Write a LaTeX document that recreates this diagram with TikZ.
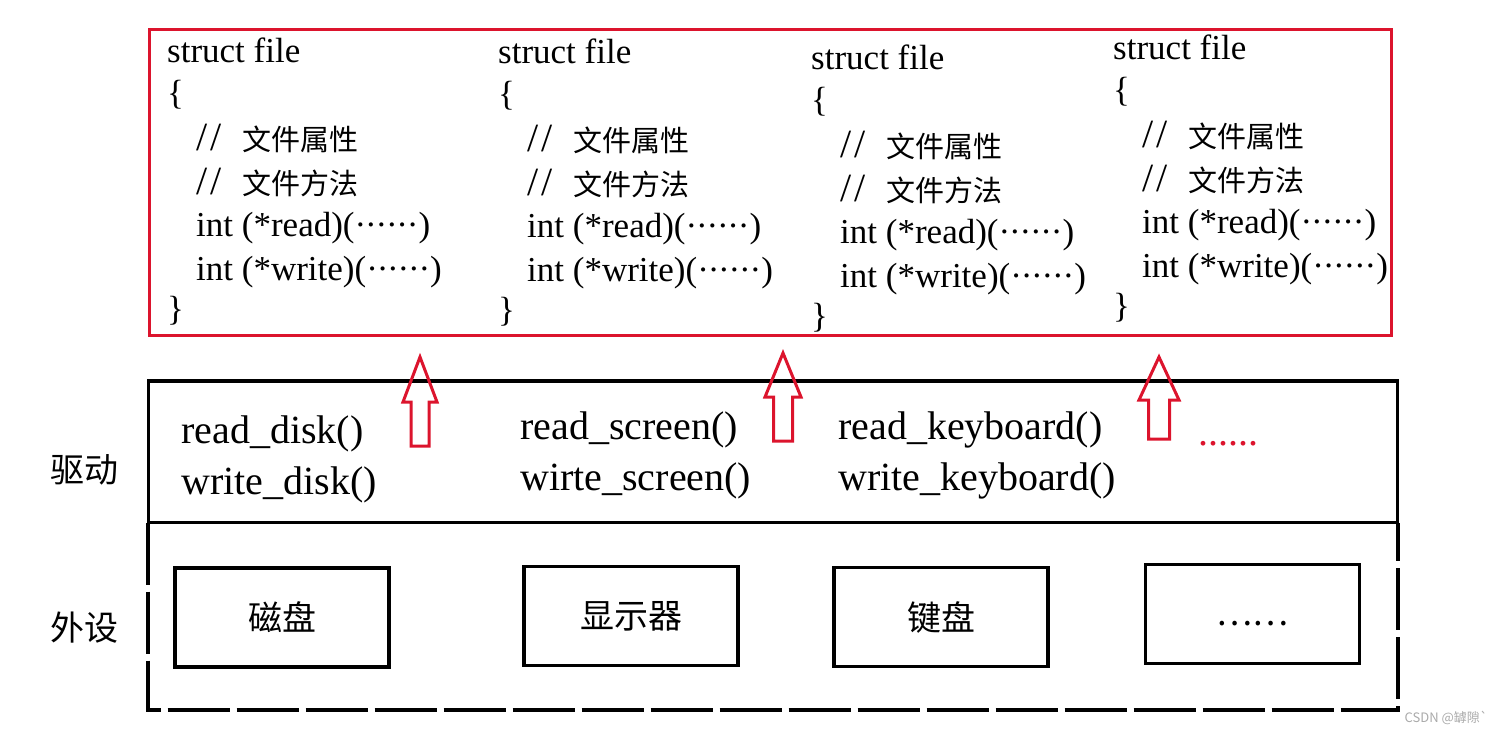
\documentclass[tikz,border=0pt]{standalone}
\usepackage{fontspec}
\setmainfont{Liberation Serif}
\newfontfamily\cjk{Noto Sans CJK SC}
\definecolor{boxred}{RGB}{220,20,45}
\definecolor{wmgray}{RGB}{170,170,170}
\newcommand\slashpair{{\fontsize{40}{40}\selectfont/\kern3pt/}\kern21pt}
\newcommand\sixdots{·\kern-1.2pt·\kern-1.2pt·\kern-1.2pt·\kern-1.2pt·\kern-1.2pt·}
\begin{document}
\begin{tikzpicture}[x=1pt,y=-1pt,
  code/.style={anchor=base west, inner sep=0pt, font=\fontsize{35}{35}\selectfont},
  drv/.style={anchor=base west, inner sep=0pt, font=\fontsize{40}{40}\selectfont},
  side/.style={inner sep=0pt, font=\cjk\fontsize{34}{34}\selectfont},
  dev/.style={draw, line width=3.5pt, minimum width=214pt, minimum height=99pt, inner sep=0pt, font=\cjk\fontsize{34}{34}\selectfont},
  upar/.style={draw=boxred, line width=3pt, line join=miter}]
\useasboundingbox (0,0) rectangle (1501,734);

% red struct box
\draw[boxred, line width=3pt] (149.5,29.5) rectangle (1391.5,335.5);

\foreach \x/\dy/\i in {167/3/a, 498/4/b, 811/10/c, 1113/0/d} {
  \node[code] (\i1) at (\x, 59+\dy) {struct file};
  \node[code] (\i2) at (\x, 101+\dy) {\{};
  \node[code] (\i3) at (\x+29, 147+\dy) {\slashpair{\cjk\fontsize{29}{29}\selectfont 文件属性}};
  \node[code] (\i4) at (\x+29, 191+\dy) {\slashpair{\cjk\fontsize{29}{29}\selectfont 文件方法}};
  \node[code] (\i5) at (\x+29, 233+\dy) {int (*read)(\sixdots)};
  \node[code] (\i6) at (\x+29, 277+\dy) {int (*write)(\sixdots)};
  \node[code] (\i7) at (\x, 317+\dy) {\}};
}

% driver box
\draw[line width=3.5pt] (148.5,381) rectangle (1397.5,522.5);
% device dashed box
\draw[line width=3.5pt, dash pattern=on 62pt off 7pt] (148,522.5) -- (148,710) -- (1398,710) -- (1398,522.5);

% hollow up arrows
\foreach \cx/\ty/\hy/\hw/\sw/\by in {420/357/402/17/9/446, 783/353/397/18/9.5/441, 1159/357/400/20/10.5/439} {
  \draw[upar] (\cx-\sw,\by) -- (\cx-\sw,\hy) -- (\cx-\hw,\hy) -- (\cx,\ty) -- (\cx+\hw,\hy) -- (\cx+\sw,\hy) -- (\cx+\sw,\by) -- cycle;
}

% driver functions
\node[drv] (rd) at (181,443) {read\_disk()};
\node[drv] (wd) at (181,494) {write\_disk()};
\node[drv] (rs) at (520,439) {read\_screen()};
\node[drv] (ws) at (520,490) {wirte\_screen()};
\node[drv] (rk) at (838,439) {read\_keyboard()};
\node[drv] (wk) at (838,490) {write\_keyboard()};
\node[drv, text=boxred] (more) at (1198,445) {......};

% side labels
\node[side] (qd) at (84,470) {驱动};
\node[side] (ws2) at (84,628) {外设};

% devices
\node[dev] (disk) at (282,617.5) {磁盘};
\node[dev] (scr) at (631,616) {显示器};
\node[dev] (kbd) at (941,617) {键盘};
\node[dev] (etc) at (1252.5,614) {\raisebox{-11pt}[0pt][0pt]{……}};

% watermark
\node[anchor=east, inner sep=0pt, text=wmgray, font=\cjk\fontsize{13}{13}\selectfont] (wm) at (1488,718) {CSDN @罅隙`};
\end{tikzpicture}
\end{document}
